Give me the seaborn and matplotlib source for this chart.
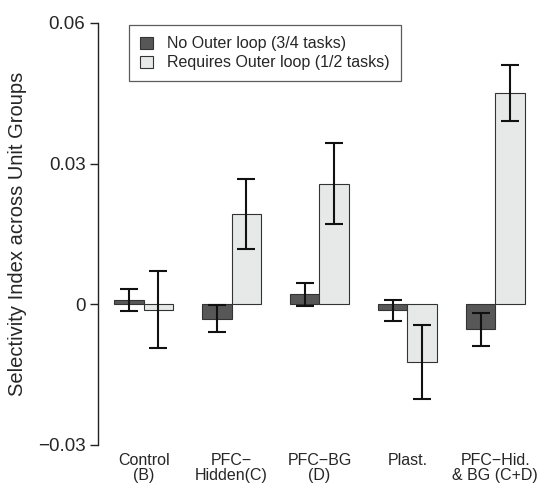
import matplotlib

matplotlib.use("Agg")
import matplotlib.pyplot as plt
import seaborn as sns
import pandas as pd
from matplotlib.patches import Patch

# values
groups = ["Control\n(B)", "PFC\u2212\nHidden(C)", "PFC\u2212BG\n(D)", "Plast.", "PFC\u2212Hid.\n& BG (C+D)"]
conditions = ["No Outer loop (3/4 tasks)", "Requires Outer loop (1/2 tasks)"]
no_outer = [0.0009, -0.0031, 0.0021, -0.0013, -0.0053]
no_outer_err = [0.0024, 0.0029, 0.0025, 0.0023, 0.0035]
outer = [-0.0012, 0.0193, 0.0257, -0.0123, 0.0450]
outer_err = [0.0082, 0.0075, 0.0086, 0.0079, 0.0060]

colors = ["#575757", "#e7e9e8"]

df = pd.DataFrame({
    "group": groups * 2,
    "condition": [conditions[0]] * 5 + [conditions[1]] * 5,
    "value": no_outer + outer,
})

sns.set_style("white")
plt.rcParams["font.family"] = ["Liberation Sans", "DejaVu Sans"]

fig = plt.figure(figsize=(5.47, 4.84), dpi=100)
ax = fig.add_axes([0.179, 0.0806, 0.81, 0.872])

sns.barplot(data=df, x="group", y="value", hue="condition", order=groups,
            hue_order=conditions, palette=colors, width=0.67, errorbar=None,
            edgecolor="#333333", linewidth=0.8, legend=False, ax=ax)

# error bars at the tip of every bar
for cont, errs in zip(ax.containers, [no_outer_err, outer_err]):
    for bar, e in zip(cont, errs):
        cx = bar.get_x() + bar.get_width() / 2
        val = bar.get_y() + bar.get_height()
        ax.errorbar(cx, val, yerr=e, color="#111111", elinewidth=1.5,
                    capsize=6.5, capthick=1.5, zorder=5)

ax.set_ylim(-0.03, 0.06)
ax.set_xlim(-0.52, 4.52)
ax.set_yticks([-0.03, 0, 0.03, 0.06])
ax.set_yticklabels(["\u22120.03", "0", "0.03", "0.06"], fontsize=13.5)
ax.tick_params(axis="y", left=True, length=6, width=1, color="#222222", pad=3)
ax.tick_params(axis="x", bottom=False, pad=2, labelsize=11.5)
for lbl in ax.get_xticklabels():
    lbl.set_linespacing(1.05)
ax.set_xlabel("")
ax.set_ylabel("Selectivity Index across Unit Groups", fontsize=14.5, labelpad=8)

for side in ["top", "right", "bottom"]:
    ax.spines[side].set_visible(False)
ax.spines["left"].set_color("#222222")
ax.spines["left"].set_linewidth(1.0)

handles = [Patch(facecolor=c, edgecolor="#333333", linewidth=0.8) for c in colors]
leg = ax.legend(handles, conditions, loc="upper left",
                bbox_to_anchor=(129 / 547, 1 - 25 / 484), bbox_transform=fig.transFigure,
                fontsize=11.5, frameon=True, fancybox=False, handlelength=0.8,
                handleheight=0.8, handletextpad=0.9, labelspacing=0.25,
                borderpad=0.7, borderaxespad=0)
leg.get_frame().set_edgecolor("#333333")
leg.get_frame().set_linewidth(0.9)

fig.savefig("out.png", dpi=100)
